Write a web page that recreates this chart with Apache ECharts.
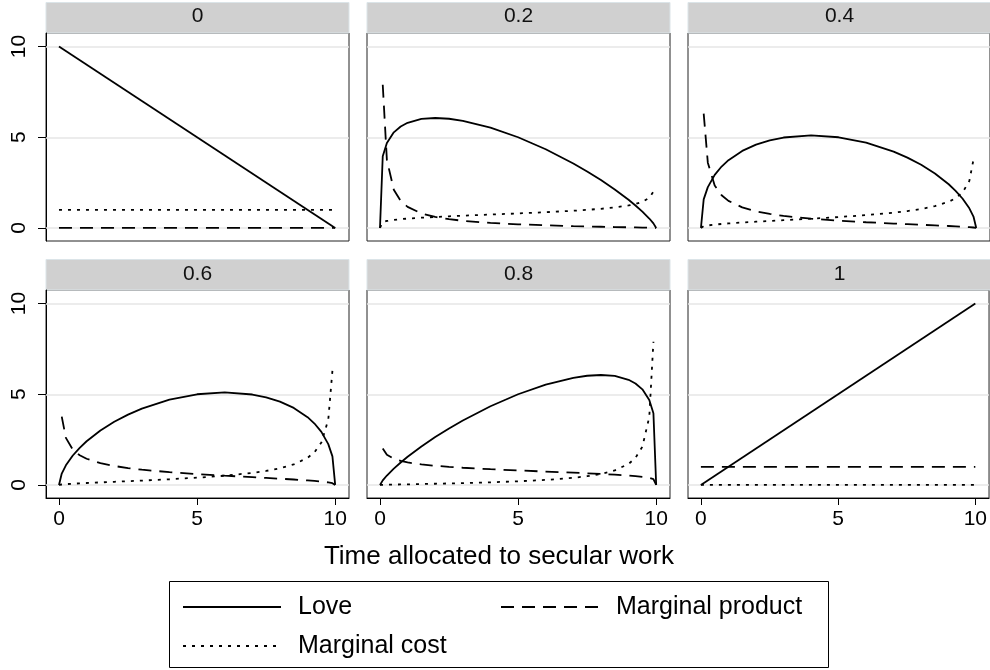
<!DOCTYPE html>
<html>
<head>
<meta charset="utf-8">
<title>Love, marginal product and marginal cost</title>
<script src="https://cdn.jsdelivr.net/npm/echarts@6.0.0/dist/echarts.min.js"></script>
<style>
  html, body { margin: 0; padding: 0; background: #fff; }
  #chart { width: 990px; height: 670px; }
</style>
</head>
<body>
<div id="chart"></div>
<script>
// panel headers (share of time weight)
const panelLabels = ['0', '0.2', '0.4', '0.6', '0.8', '1'];
const tickValues = [0, 5, 10];
const gridValues = [0, 5, 10];

// x grid for the straight-line panels and for the curved ones
const xEnds = [0, 10];
const xs = [0, 0.1, 0.25, 0.5, 0.75, 1, 1.5, 2, 2.5, 3, 4, 5, 6, 7, 7.5, 8, 8.5, 9, 9.25, 9.5, 9.75, 9.9, 10];

// panel 0
const love0 = [10, 0];
const mp0 = [0, 0];
const mc0 = [1, 1];

// panel 0.2
const love02 = [0, 3.949, 4.686, 5.272, 5.597, 5.800, 6.009, 6.063, 6.021, 5.909, 5.533, 5.000, 4.338, 3.554, 3.114, 2.639, 2.122, 1.552, 1.240, 0.901, 0.520, 0.251, 0];
const mp02 = [null, 7.90, 3.75, 2.11, 1.492, 1.16, 0.801, 0.606, 0.482, 0.394, 0.277, 0.2, 0.145, 0.102, 0.083, 0.066, 0.050, 0.034, 0.027, 0.019, 0.011, 0.005, 0];
const mc02 = [0, 0.319, 0.385, 0.444, 0.484, 0.515, 0.566, 0.606, 0.642, 0.675, 0.738, 0.8, 0.868, 0.948, 0.997, 1.056, 1.132, 1.241, 1.322, 1.442, 1.665, 2.005, null];

// panel 0.4
const love04 = [0, 1.575, 2.252, 2.926, 3.386, 3.737, 4.247, 4.595, 4.833, 4.987, 5.102, 5.000, 4.705, 4.211, 3.880, 3.482, 3.002, 2.408, 2.049, 1.624, 1.082, 0.628, 0];
const mp04 = [null, 6.30, 3.60, 2.34, 1.806, 1.495, 1.133, 0.919, 0.773, 0.665, 0.510, 0.4, 0.314, 0.241, 0.207, 0.174, 0.141, 0.107, 0.089, 0.068, 0.044, 0.025, 0];
const mc04 = [0, 0.095, 0.139, 0.185, 0.220, 0.249, 0.300, 0.345, 0.387, 0.428, 0.510, 0.6, 0.706, 0.842, 0.931, 1.045, 1.201, 1.445, 1.639, 1.948, 2.597, 3.770, null];

// panel 0.6
const love06 = [0, 0.628, 1.082, 1.624, 2.049, 2.408, 3.002, 3.482, 3.880, 4.211, 4.705, 5.000, 5.102, 4.987, 4.833, 4.595, 4.247, 3.737, 3.386, 2.926, 2.252, 1.575, 0];
const mp06 = [null, 3.770, 2.597, 1.948, 1.639, 1.445, 1.201, 1.045, 0.931, 0.842, 0.706, 0.6, 0.510, 0.428, 0.387, 0.345, 0.300, 0.249, 0.220, 0.185, 0.139, 0.095, 0];
const mc06 = [0, 0.025, 0.044, 0.068, 0.089, 0.107, 0.141, 0.174, 0.207, 0.241, 0.314, 0.4, 0.510, 0.665, 0.773, 0.919, 1.133, 1.495, 1.806, 2.34, 3.60, 6.30, null];

// panel 0.8
const love08 = [0, 0.251, 0.520, 0.901, 1.240, 1.552, 2.122, 2.639, 3.114, 3.554, 4.338, 5.000, 5.533, 5.909, 6.021, 6.063, 6.009, 5.800, 5.597, 5.272, 4.686, 3.949, 0];
const mp08 = [null, 2.005, 1.665, 1.442, 1.322, 1.241, 1.132, 1.056, 0.997, 0.948, 0.868, 0.8, 0.738, 0.675, 0.642, 0.606, 0.566, 0.515, 0.484, 0.444, 0.385, 0.319, 0];
const mc08 = [0, 0.005, 0.011, 0.019, 0.027, 0.034, 0.050, 0.066, 0.083, 0.102, 0.145, 0.2, 0.277, 0.394, 0.482, 0.606, 0.801, 1.16, 1.492, 2.11, 3.75, 7.90, null];

// panel 1
const love1 = [0, 10];
const mp1 = [1, 1];
const mc1 = [0, 0];

const FONT = '"Liberation Sans", Arial, Helvetica, sans-serif';
const colLeft = [46, 367, 688];
const rowTop = [33, 290];
const PW = 303, PH = 208;

const panels = [
    { x: xEnds, love: love0, mp: mp0, mc: mc0 },
    { x: xs, love: love02, mp: mp02, mc: mc02 },
    { x: xs, love: love04, mp: mp04, mc: mc04 },
    { x: xs, love: love06, mp: mp06, mc: mc06 },
    { x: xs, love: love08, mp: mp08, mc: mc08 },
    { x: xEnds, love: love1, mp: mp1, mc: mc1 }
];

const pairs = (x, v) => x.map((xi, i) => [xi, v[i]]).filter(p => p[1] !== null);

const getOption = () => {
    const grid = [], xAxis = [], yAxis = [], series = [], graphic = [];

    panels.forEach((p, i) => {
        const row = Math.floor(i / 3), col = i % 3;
        const left = colLeft[col], top = rowTop[row];

        grid.push({
            left: left, top: top, width: PW, height: PH,
            show: true, borderColor: '#222', borderWidth: 1, backgroundColor: '#fff'
        });

        xAxis.push({
            type: 'value', gridIndex: i, min: -0.47, max: 10.5,
            show: row === 1,
            axisLine: { show: true, onZero: false, lineStyle: { color: '#000', width: 1 } },
            axisTick: { show: true, length: 7, customValues: tickValues, lineStyle: { color: '#000' } },
            axisLabel: { customValues: tickValues, margin: 11, fontSize: 21, color: '#000', fontFamily: FONT },
            splitLine: { show: false }
        });

        yAxis.push({
            type: 'value', gridIndex: i, min: -0.72, max: 10.75,
            show: col === 0,
            axisLine: { show: true, onZero: false, lineStyle: { color: '#000', width: 1 } },
            axisTick: { show: true, length: 8, customValues: tickValues, lineStyle: { color: '#000' } },
            axisLabel: { customValues: tickValues, rotate: 90, margin: 16, fontSize: 21, color: '#000', fontFamily: FONT },
            splitLine: { show: false }
        });

        // light horizontal grid lines
        series.push({
            type: 'line', name: 'grid' + i, xAxisIndex: i, yAxisIndex: i,
            data: [], z: 1, silent: true,
            markLine: {
                silent: true, symbol: 'none', z: 1,
                label: { show: false },
                lineStyle: { color: '#e6e6e6', width: 1.5, type: 'solid' },
                data: gridValues.map(v => ({ yAxis: v }))
            }
        });

        const common = {
            type: 'line', xAxisIndex: i, yAxisIndex: i, symbol: 'none', showSymbol: false,
            silent: true, z: 3, itemStyle: { color: '#000' }
        };
        series.push(Object.assign({}, common, {
            name: 'Love', data: pairs(p.x, p.love),
            lineStyle: { color: '#000', width: 1.8, type: 'solid' }
        }));
        series.push(Object.assign({}, common, {
            name: 'Marginal product', data: pairs(p.x, p.mp),
            lineStyle: { color: '#000', width: 1.8, type: [13, 8] }
        }));
        series.push(Object.assign({}, common, {
            name: 'Marginal cost', data: pairs(p.x, p.mc),
            lineStyle: { color: '#000', width: 1.8, type: [3, 6] }
        }));

        // header strip
        const hTop = row === 0 ? 2.5 : 259.5;
        graphic.push({
            type: 'rect', silent: true,
            shape: { x: left, y: hTop, width: PW, height: top - hTop },
            style: { fill: '#d0d0d0', stroke: '#dbe4e8', lineWidth: 1 }
        });
        graphic.push({
            type: 'text', silent: true,
            style: {
                text: panelLabels[i], x: left + PW / 2, y: row === 0 ? 16.5 : 274,
                textAlign: 'center', textVerticalAlign: 'middle',
                fontSize: 21, fill: '#111', fontFamily: FONT
            }
        });
    });

    graphic.push({
        type: 'text', silent: true,
        style: {
            text: 'Time allocated to secular work', x: 499, y: 557,
            textAlign: 'center', textVerticalAlign: 'middle',
            fontSize: 26, fill: '#000', fontFamily: FONT
        }
    });
    graphic.push({
        type: 'rect', silent: true,
        shape: { x: 169.5, y: 581.5, width: 659, height: 86 },
        style: { fill: 'none', stroke: '#000', lineWidth: 1 }
    });

    const legendBase = {
        orient: 'horizontal', padding: 0, itemWidth: 98, itemHeight: 4,
        selectedMode: false,
        itemStyle: { opacity: 0 },
        textStyle: { fontSize: 25, color: '#000', fontFamily: FONT, lineHeight: 28, padding: [0, 0, 0, 12] }
    };

    return {
        animation: false,
        backgroundColor: '#fff',
        grid: grid,
        xAxis: xAxis,
        yAxis: yAxis,
        series: series,
        graphic: graphic,
        legend: [
            Object.assign({}, legendBase, { data: ['Love'], left: 182, top: 593 }),
            Object.assign({}, legendBase, { data: ['Marginal product'], left: 500, top: 593 }),
            Object.assign({}, legendBase, { data: ['Marginal cost'], left: 182, top: 632 })
        ]
    };
};

let chart1;
const initCharts = () => {
    chart1 = echarts.init(document.getElementById('chart'));
    chart1.setOption(getOption());
};
document.addEventListener('DOMContentLoaded', function () {
    initCharts();
});
window.addEventListener('resize', function () {
    chart1.resize();
});
</script>
</body>
</html>
